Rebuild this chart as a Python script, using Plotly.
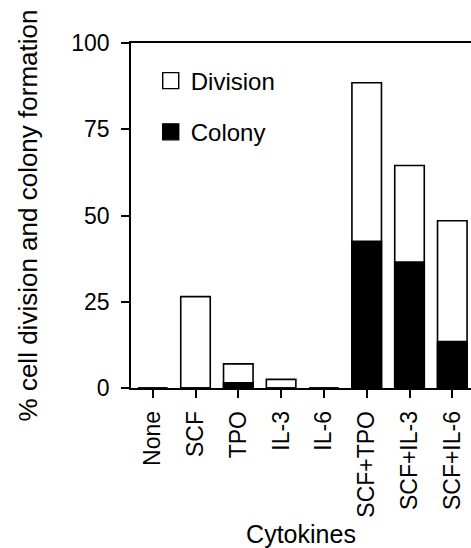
import plotly.graph_objects as go

categories = ["None", "SCF", "TPO", "IL-3", "IL-6", "SCF+TPO", "SCF+IL-3", "SCF+IL-6"]
division = [0, 26.5, 7.0, 2.5, 0, 88.5, 64.5, 48.5]
colony = [0, 0, 1.5, 0, 0, 42.5, 36.5, 13.5]
y_ticks = [0, 25, 50, 75, 100]

FONT = "Liberation Sans, Arial, Helvetica, sans-serif"

fig = go.Figure()
fig.add_trace(go.Bar(
    x=categories, y=division, name="Division", showlegend=False,
    marker=dict(color="white", line=dict(color="black", width=1.6)),
    width=0.69,
))
fig.add_trace(go.Bar(
    x=categories, y=colony, name="Colony", showlegend=False,
    marker=dict(color="black", line=dict(color="black", width=1.6)),
    width=0.69,
))
# legend entries
fig.add_trace(go.Scatter(
    x=[None], y=[None], mode="markers", name="Division", legendgroup="a",
    marker=dict(symbol="square", size=16, color="white", line=dict(color="black", width=1.4)),
))
fig.add_trace(go.Scatter(
    x=[None], y=[None], mode="markers", name="Colony", legendgroup="b",
    marker=dict(symbol="square", size=16, color="black", line=dict(color="black", width=1.4)),
))

fig.update_layout(
    width=471, height=548,
    margin=dict(l=131, r=0, t=43, b=160),
    barmode="overlay",
    plot_bgcolor="white", paper_bgcolor="white",
    font=dict(family=FONT, size=22, color="black"),
    showlegend=True,
    legend=dict(
        x=0.058, y=0.955, xanchor="left", yanchor="top",
        bgcolor="rgba(0,0,0,0)", font=dict(size=24),
        tracegroupgap=17, itemsizing="trace",
    ),
    xaxis=dict(
        type="category", range=[-0.507, 7.437], automargin=False,
        showline=True, linecolor="black", linewidth=1.6, mirror=True,
        ticks="outside", ticklen=8, tickwidth=1.6, tickcolor="black",
        tickangle=-90, ticklabelstandoff=4,
        tickfont=dict(size=23),
        title=dict(text="Cytokines", font=dict(size=25), standoff=17),
        showgrid=False, zeroline=False,
    ),
    yaxis=dict(
        range=[0, 100], tickvals=y_ticks, automargin=False,
        showline=True, linecolor="black", linewidth=1.6,
        ticks="outside", ticklen=8, tickwidth=1.6, tickcolor="black",
        ticklabelstandoff=7,
        tickfont=dict(size=23),
        title=dict(text="% cell division and colony formation", font=dict(size=26), standoff=26),
        showgrid=False, zeroline=False,
    ),
)

fig.write_html(
    "out.html",
    config={"displayModeBar": False},
    post_script="document.body.style.margin='0px';document.body.style.overflow='hidden';",
)
